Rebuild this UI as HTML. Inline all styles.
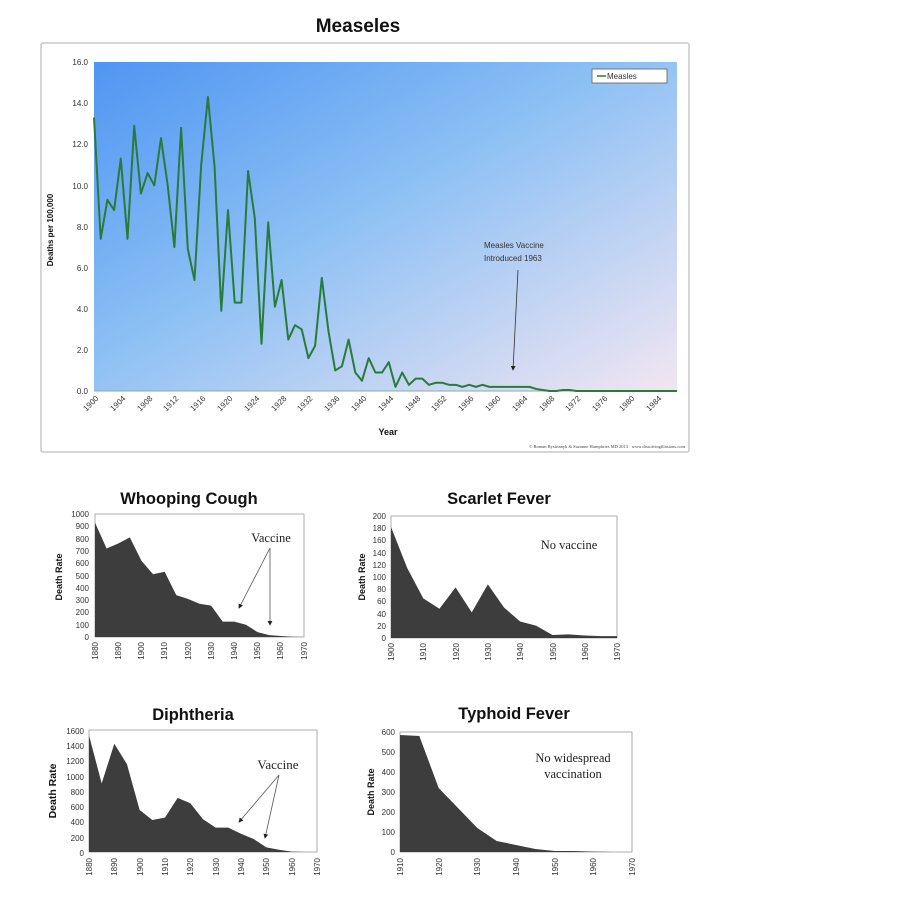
<!DOCTYPE html>
<html><head><meta charset="utf-8"><style>
body{margin:0;background:#fff;width:898px;height:918px;overflow:hidden}
svg{display:block}
.t{font-family:"Liberation Sans",Arial,sans-serif;font-weight:bold;fill:#111}
.s{font-family:"Liberation Sans",Arial,sans-serif;font-size:8px;fill:#333}
.r{font-family:"Liberation Serif",serif;fill:#222}
</style></head><body>
<svg width="898" height="918" viewBox="0 0 898 918" xmlns="http://www.w3.org/2000/svg">
<defs>
<linearGradient id="bg" x1="0" y1="0" x2="1" y2="1">
<stop offset="0" stop-color="#4f95f2"/><stop offset="0.45" stop-color="#8cc0f4"/><stop offset="1" stop-color="#f2e6f2"/>
</linearGradient>
<marker id="ah" markerWidth="6" markerHeight="6" refX="5" refY="3" orient="auto"><path d="M0,0 L6,3 L0,6 z" fill="#222"/></marker>
</defs>
<text class="t" x="358" y="32" font-size="19" text-anchor="middle">Measeles</text>
<rect x="41" y="43" width="648" height="409" fill="#fff" stroke="#c8c8c8" stroke-width="1.5" rx="2"/>
<rect x="94" y="62" width="583" height="329" fill="url(#bg)"/>
<line x1="94" y1="391" x2="677" y2="391" stroke="#8aa" stroke-width="1"/>
<g class="s" text-anchor="end">
<text x="88" y="394">0.0</text><text x="88" y="353">2.0</text><text x="88" y="312">4.0</text><text x="88" y="271">6.0</text><text x="88" y="230">8.0</text><text x="88" y="189">10.0</text><text x="88" y="147">12.0</text><text x="88" y="106">14.0</text><text x="88" y="65">16.0</text>
</g>
<text class="t" font-size="8" transform="translate(53,230) rotate(-90)" text-anchor="middle">Deaths per 100,000</text>
<g class="s" text-anchor="end">
<text transform="translate(99,399) rotate(-45)">1900</text>
<text transform="translate(126,399) rotate(-45)">1904</text>
<text transform="translate(153,399) rotate(-45)">1908</text>
<text transform="translate(179,399) rotate(-45)">1912</text>
<text transform="translate(206,399) rotate(-45)">1916</text>
<text transform="translate(233,399) rotate(-45)">1920</text>
<text transform="translate(260,399) rotate(-45)">1924</text>
<text transform="translate(287,399) rotate(-45)">1928</text>
<text transform="translate(313,399) rotate(-45)">1932</text>
<text transform="translate(340,399) rotate(-45)">1936</text>
<text transform="translate(367,399) rotate(-45)">1940</text>
<text transform="translate(394,399) rotate(-45)">1944</text>
<text transform="translate(421,399) rotate(-45)">1948</text>
<text transform="translate(447,399) rotate(-45)">1952</text>
<text transform="translate(474,399) rotate(-45)">1956</text>
<text transform="translate(501,399) rotate(-45)">1960</text>
<text transform="translate(528,399) rotate(-45)">1964</text>
<text transform="translate(555,399) rotate(-45)">1968</text>
<text transform="translate(581,399) rotate(-45)">1972</text>
<text transform="translate(608,399) rotate(-45)">1976</text>
<text transform="translate(635,399) rotate(-45)">1980</text>
<text transform="translate(662,399) rotate(-45)">1984</text>
</g>
<text class="t" x="388" y="435" font-size="9" text-anchor="middle">Year</text>
<text x="685" y="448" font-family="Liberation Serif,serif" font-size="4.5" fill="#444" text-anchor="end">© Roman Bystrianyk &amp; Suzanne Humphries MD 2013 · www.dissolvingillusions.com</text>
<rect x="592" y="69" width="75" height="14" fill="#fff" stroke="#777"/>
<line x1="597" y1="76" x2="606" y2="76" stroke="#2a7a3a" stroke-width="1.5"/>
<text class="s" x="607" y="79">Measles</text>
<text class="s" x="484" y="248" font-size="8.5">Measles Vaccine</text>
<text class="s" x="484" y="261" font-size="8.5">Introduced 1963</text>
<line x1="518" y1="270" x2="513" y2="370" stroke="#333" stroke-width="0.8" marker-end="url(#ah)"/>
<g transform="translate(94,391) scale(6.7,-20.56)">
<polyline fill="none" stroke="#2a7a3a" stroke-width="2" vector-effect="non-scaling-stroke" stroke-linejoin="round" points="0,13.3 1,7.4 2,9.3 3,8.8 4,11.3 5,7.4 6,12.9 7,9.6 8,10.6 9,10 10,12.3 11,10 12,7 13,12.8 14,6.9 15,5.4 16,11 17,14.3 18,10.9 19,3.9 20,8.8 21,4.3 22,4.3 23,10.7 24,8.4 25,2.3 26,8.2 27,4.1 28,5.4 29,2.5 30,3.2 31,3 32,1.6 33,2.2 34,5.5 35,2.9 36,1 37,1.2 38,2.5 39,0.9 40,0.5 41,1.6 42,0.9 43,0.9 44,1.4 45,0.2 46,0.9 47,0.3 48,0.6 49,0.6 50,0.3 51,0.4 52,0.4 53,0.3 54,0.3 55,0.2 56,0.3 57,0.2 58,0.3 59,0.2 60,0.2 61,0.2 62,0.2 63,0.2 64,0.2 65,0.2 66,0.1 67,0.05 68,0 69,0 70,0.05 71,0.05 72,0 87,0"/>
</g>

<!-- Whooping Cough -->
<text class="t" x="189" y="504" font-size="16.5" text-anchor="middle">Whooping Cough</text>
<rect x="95" y="514" width="209" height="123" fill="#fff" stroke="#999" stroke-width="0.8"/>
<g transform="translate(95,637) scale(2.322,-0.123)">
<polygon fill="#3d3d3d" points="0,0 0,930 5,720 10,760 15,810 20,620 25,510 30,530 35,340 40,310 45,270 50,255 55,125 60,125 65,100 70,40 75,15 80,8 85,2 90,0"/>
</g>
<g class="s" text-anchor="end"><text x="89" y="640">0</text><text x="89" y="628">100</text><text x="89" y="615">200</text><text x="89" y="603">300</text><text x="89" y="591">400</text><text x="89" y="579">500</text><text x="89" y="566">600</text><text x="89" y="554">700</text><text x="89" y="542">800</text><text x="89" y="529">900</text><text x="89" y="517">1000</text></g>
<text class="t" font-size="9" transform="translate(62,577) rotate(-90)" text-anchor="middle">Death Rate</text>
<g class="s" text-anchor="end">
<text transform="translate(98,642) rotate(-90)">1880</text><text transform="translate(121,642) rotate(-90)">1890</text><text transform="translate(144,642) rotate(-90)">1900</text><text transform="translate(167,642) rotate(-90)">1910</text><text transform="translate(191,642) rotate(-90)">1920</text><text transform="translate(214,642) rotate(-90)">1930</text><text transform="translate(237,642) rotate(-90)">1940</text><text transform="translate(260,642) rotate(-90)">1950</text><text transform="translate(283,642) rotate(-90)">1960</text><text transform="translate(307,642) rotate(-90)">1970</text>
</g>
<text class="r" x="271" y="542" font-size="12.5" text-anchor="middle">Vaccine</text>
<line x1="270" y1="548" x2="239" y2="608" stroke="#555" stroke-width="0.8" marker-end="url(#ah)"/>
<line x1="270" y1="548" x2="270" y2="625" stroke="#555" stroke-width="0.8" marker-end="url(#ah)"/>

<!-- Scarlet Fever -->
<text class="t" x="499" y="504" font-size="16.5" text-anchor="middle">Scarlet Fever</text>
<rect x="391" y="516" width="226" height="122" fill="#fff" stroke="#999" stroke-width="0.8"/>
<g transform="translate(391,638) scale(3.229,-0.61)">
<polygon fill="#3d3d3d" points="0,0 0,182 5,115 10,65 15,48 20,83 25,42 30,88 35,50 40,27 45,20 50,5 55,6 60,4 65,3 70,3 70,0"/>
</g>
<g class="s" text-anchor="end"><text x="386" y="641">0</text><text x="386" y="629">20</text><text x="386" y="617">40</text><text x="386" y="604">60</text><text x="386" y="592">80</text><text x="386" y="580">100</text><text x="386" y="568">120</text><text x="386" y="556">140</text><text x="386" y="543">160</text><text x="386" y="531">180</text><text x="386" y="519">200</text></g>
<text class="t" font-size="9" transform="translate(365,577) rotate(-90)" text-anchor="middle">Death Rate</text>
<g class="s" text-anchor="end">
<text transform="translate(394,643) rotate(-90)">1900</text><text transform="translate(426,643) rotate(-90)">1910</text><text transform="translate(459,643) rotate(-90)">1920</text><text transform="translate(491,643) rotate(-90)">1930</text><text transform="translate(523,643) rotate(-90)">1940</text><text transform="translate(556,643) rotate(-90)">1950</text><text transform="translate(588,643) rotate(-90)">1960</text><text transform="translate(620,643) rotate(-90)">1970</text>
</g>
<text class="r" x="569" y="549" font-size="12.5" text-anchor="middle">No vaccine</text>

<!-- Diphtheria -->
<text class="t" x="193" y="720" font-size="16.5" text-anchor="middle">Diphtheria</text>
<rect x="89" y="730" width="228" height="122" fill="#fff" stroke="#999" stroke-width="0.8"/>
<g transform="translate(89,852) scale(2.533,-0.07625)">
<polygon fill="#3d3d3d" points="0,0 0,1530 5,900 10,1420 15,1150 20,550 25,420 30,450 35,710 40,640 45,430 50,320 55,320 60,240 65,170 70,60 75,30 80,5 85,0"/>
</g>
<g class="s" text-anchor="end" font-size="9"><text x="84" y="856">0</text><text x="84" y="841">200</text><text x="84" y="825">400</text><text x="84" y="810">600</text><text x="84" y="795">800</text><text x="84" y="780">1000</text><text x="84" y="764">1200</text><text x="84" y="749">1400</text><text x="84" y="734">1600</text></g>
<text class="t" font-size="10.5" transform="translate(56,791) rotate(-90)" text-anchor="middle">Death Rate</text>
<g class="s" text-anchor="end" font-size="9">
<text transform="translate(92,858) rotate(-90)">1880</text><text transform="translate(117,858) rotate(-90)">1890</text><text transform="translate(143,858) rotate(-90)">1900</text><text transform="translate(168,858) rotate(-90)">1910</text><text transform="translate(193,858) rotate(-90)">1920</text><text transform="translate(219,858) rotate(-90)">1930</text><text transform="translate(244,858) rotate(-90)">1940</text><text transform="translate(269,858) rotate(-90)">1950</text><text transform="translate(295,858) rotate(-90)">1960</text><text transform="translate(320,858) rotate(-90)">1970</text>
</g>
<text class="r" x="278" y="769" font-size="13" text-anchor="middle">Vaccine</text>
<line x1="279" y1="775" x2="239" y2="822" stroke="#555" stroke-width="0.8" marker-end="url(#ah)"/>
<line x1="279" y1="775" x2="265" y2="838" stroke="#555" stroke-width="0.8" marker-end="url(#ah)"/>

<!-- Typhoid Fever -->
<text class="t" x="514" y="719" font-size="16.5" text-anchor="middle">Typhoid Fever</text>
<rect x="400" y="732" width="232" height="120" fill="#fff" stroke="#999" stroke-width="0.8"/>
<g transform="translate(400,852) scale(3.867,-0.2)">
<polygon fill="#3d3d3d" points="0,0 0,585 5,580 10,320 15,220 20,120 25,55 30,35 35,15 40,5 45,5 50,2 55,0"/>
</g>
<g class="s" text-anchor="end"><text x="395" y="855">0</text><text x="395" y="835">100</text><text x="395" y="815">200</text><text x="395" y="795">300</text><text x="395" y="775">400</text><text x="395" y="755">500</text><text x="395" y="735">600</text></g>
<text class="t" font-size="9" transform="translate(374,792) rotate(-90)" text-anchor="middle">Death Rate</text>
<g class="s" text-anchor="end">
<text transform="translate(403,858) rotate(-90)">1910</text><text transform="translate(442,858) rotate(-90)">1920</text><text transform="translate(480,858) rotate(-90)">1930</text><text transform="translate(519,858) rotate(-90)">1940</text><text transform="translate(558,858) rotate(-90)">1950</text><text transform="translate(596,858) rotate(-90)">1960</text><text transform="translate(635,858) rotate(-90)">1970</text>
</g>
<text class="r" x="573" y="762" font-size="12.5" text-anchor="middle">No widespread</text>
<text class="r" x="573" y="778" font-size="12.5" text-anchor="middle">vaccination</text>
</svg>
</body></html>
